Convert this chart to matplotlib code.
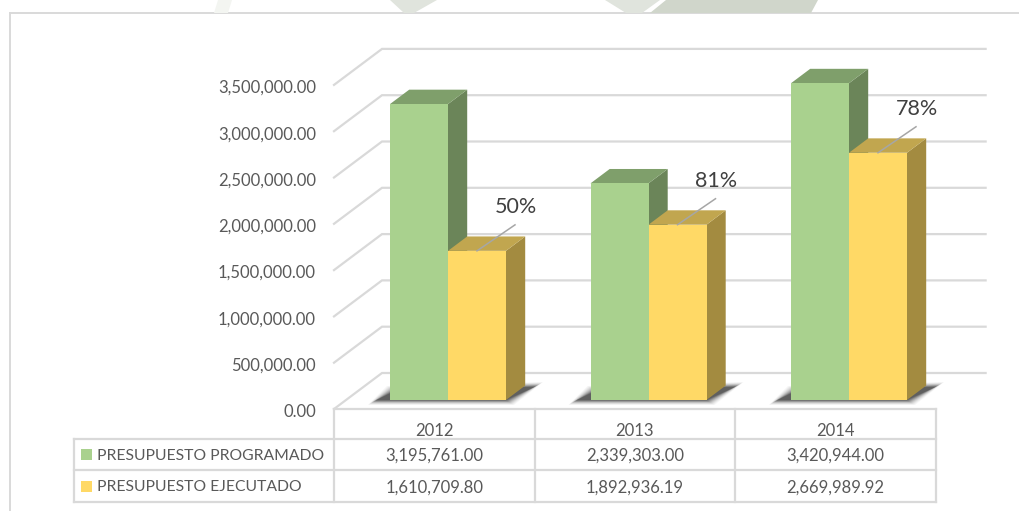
import matplotlib
matplotlib.use("Agg")
import matplotlib.pyplot as plt
from matplotlib.patches import Polygon, Rectangle

years = ["2012", "2013", "2014"]
programado = [3195761.00, 2339303.00, 3420944.00]
ejecutado = [1610709.80, 1892936.19, 2669989.92]
percent_labels = ["50%", "81%", "78%"]
series_names = ["PRESUPUESTO PROGRAMADO", "PRESUPUESTO EJECUTADO"]
axis_ticks = [0, 500000, 1000000, 1500000, 2000000, 2500000, 3000000, 3500000]

W, H = 1019, 511
plt.rcParams["font.family"] = ["Lato", "DejaVu Sans"]
fig = plt.figure(figsize=(W / 100, H / 100), dpi=100)
ax = fig.add_axes([0, 0, 1, 1])
ax.axis("off")

# x unit = one category column, y unit = value; limits tie these to the canvas
PX_X = 200.5
PX_Y = 46.3 / 500000
X0, Y0 = 334, 409
ax.set_xlim(-X0 / PX_X, (W - X0) / PX_X)
ax.set_ylim(-(H - Y0) / PX_Y, Y0 / PX_Y)

DX = 48 / PX_X
DY = 36 / PX_Y
GRID = "#d9d9d9"
TXT = "#595959"
GREEN, GREEN_S, GREEN_T = "#a9d18e", "#6b8559", "#7f9f6b"
YELLOW, YELLOW_S, YELLOW_T = "#ffd966", "#a38b40", "#c1a64f"
BAR_W = 58 / PX_X

def px(x):
    return (x - X0) / PX_X

def py(y):
    return (Y0 - y) / PX_Y

def pxy(points):
    return [(px(x), py(y)) for x, y in points]

# page frame and watermark fragments
ax.plot([px(10), px(10)], [py(13), py(511)], color="#d9d9d9", lw=1.4, zorder=1)
ax.plot([px(10), px(1019)], [py(13), py(13)], color="#d9d9d9", lw=1.4, zorder=1)
ax.add_patch(Polygon(pxy([(218, 0), (232, 0), (228, 13), (214, 13)]), fc="#f3f5f1", ec="none", zorder=1))
ax.add_patch(Polygon(pxy([(390, 0), (437, 0), (414, 13), (404, 13)]), fc="#e0e4dd", ec="none", zorder=1))
ax.add_patch(Polygon(pxy([(605, 0), (660, 0), (642, 13), (626, 13)]), fc="#e0e4dd", ec="none", zorder=1))
ax.add_patch(Polygon(pxy([(666, 0), (818, 0), (811, 13), (650, 13)]), fc="#d0d6cb", ec="none", zorder=1))

# gridlines on floor edge and back wall
for t in axis_ticks:
    ax.plot([0, DX, 3.25], [t, t + DY, t + DY], color=GRID, lw=1.6, zorder=2,
            solid_joinstyle="miter")
    ax.text(px(316), t - 3 / PX_Y, f"{t:,.2f}", ha="right", va="center", fontsize=12, color=TXT)

BASE_X, BASE_Y = DX * 0.25, DY * 0.25
BODY_X, BODY_Y = DX * 0.40, DY * 0.40

def box(x, val, w, front, side, top):
    """3-D bar standing on the floor, a quarter of the depth back."""
    xl, xr = x + BASE_X, x + BASE_X + w
    yb, yt = BASE_Y, BASE_Y + val
    ax.add_patch(Polygon([(xr, yb), (xr + BODY_X, yb + BODY_Y), (xr + BODY_X, yt + BODY_Y), (xr, yt)],
                         fc=side, ec="none", zorder=6))
    ax.add_patch(Polygon([(xl, yt), (xr, yt), (xr + BODY_X, yt + BODY_Y), (xl + BODY_X, yt + BODY_Y)],
                         fc=top, ec="none", zorder=6))
    ax.add_patch(Rectangle((xl, yb), w, yt - yb, fc=front, ec="none", zorder=7))
    return xl, xr, yb, yt

SHADOW = [(-17, 2), (2, -11), (148, -15), (119, 2)]
for i in range(3):
    left = i + 44 / PX_X
    anchor_x = left + BASE_X
    # soft shadow under each pair, built up from nested layers
    for grow, a in [(5, 0.04), (4, 0.05), (3, 0.07), (2, 0.09), (1, 0.12), (0, 0.15), (-1, 0.2), (-2, 0.25), (-3, 0.3)]:
        pts = []
        for sx, sy in SHADOW:
            ex = sx + (grow if sx > 66 else -grow)
            ey = sy + (grow * 0.6 if sy > -7 else -grow * 0.6)
            pts.append((anchor_x + ex / PX_X, BASE_Y - ey / PX_Y))
        ax.add_patch(Polygon(pts, fc="#303030", alpha=a, ec="none", zorder=4))
    box(left, programado[i], BAR_W, GREEN, GREEN_S, GREEN_T)
    xl, xr, yb, yt = box(left + BAR_W, ejecutado[i], BAR_W, YELLOW, YELLOW_S, YELLOW_T)
    # leader line and percentage label
    cx = (xl + xr) / 2
    lx = cx + 38 / PX_X
    ly = yt + 26 / PX_Y
    ax.plot([cx, lx], [yt, ly], color="#a6a6a6", lw=1.1, zorder=8)
    ax.text(lx + 1 / PX_X, ly + 18 / PX_Y, percent_labels[i], ha="center", va="center",
            fontsize=15.5, color="#404040", zorder=9)

# data table
rows = [py(409), py(439), py(470), py(502)]
for j, r in enumerate(rows):
    x_start = 0 if j == 0 else px(74)
    ax.plot([x_start, 3], [r, r], color=GRID, lw=1.6, zorder=3)
for c in range(4):
    ax.plot([c, c], [rows[0], rows[3]], color=GRID, lw=1.6, zorder=3)
ax.plot([px(74), px(74)], [rows[1], rows[3]], color=GRID, lw=1.6, zorder=3)

for i, y in enumerate(years):
    ax.text(i + 0.5, py(430.5), y, ha="center", va="center", fontsize=12, color=TXT)
for row, (name, vals, col) in enumerate(zip(series_names, [programado, ejecutado], [GREEN, YELLOW])):
    yc = (rows[row + 1] + rows[row + 2]) / 2
    ax.add_patch(Rectangle((px(81.5), yc - 5.5 / PX_Y), 11 / PX_X, 11 / PX_Y, fc=col, ec="none", zorder=5))
    ax.text(px(97), yc - 1 / PX_Y, name, ha="left", va="center", fontsize=11.35, color=TXT)
    for i, v in enumerate(vals):
        ax.text(i + 0.5, yc - 1.5 / PX_Y, f"{v:,.2f}", ha="center", va="center", fontsize=12, color=TXT)

fig.savefig("out.png", dpi=100, facecolor="white")
